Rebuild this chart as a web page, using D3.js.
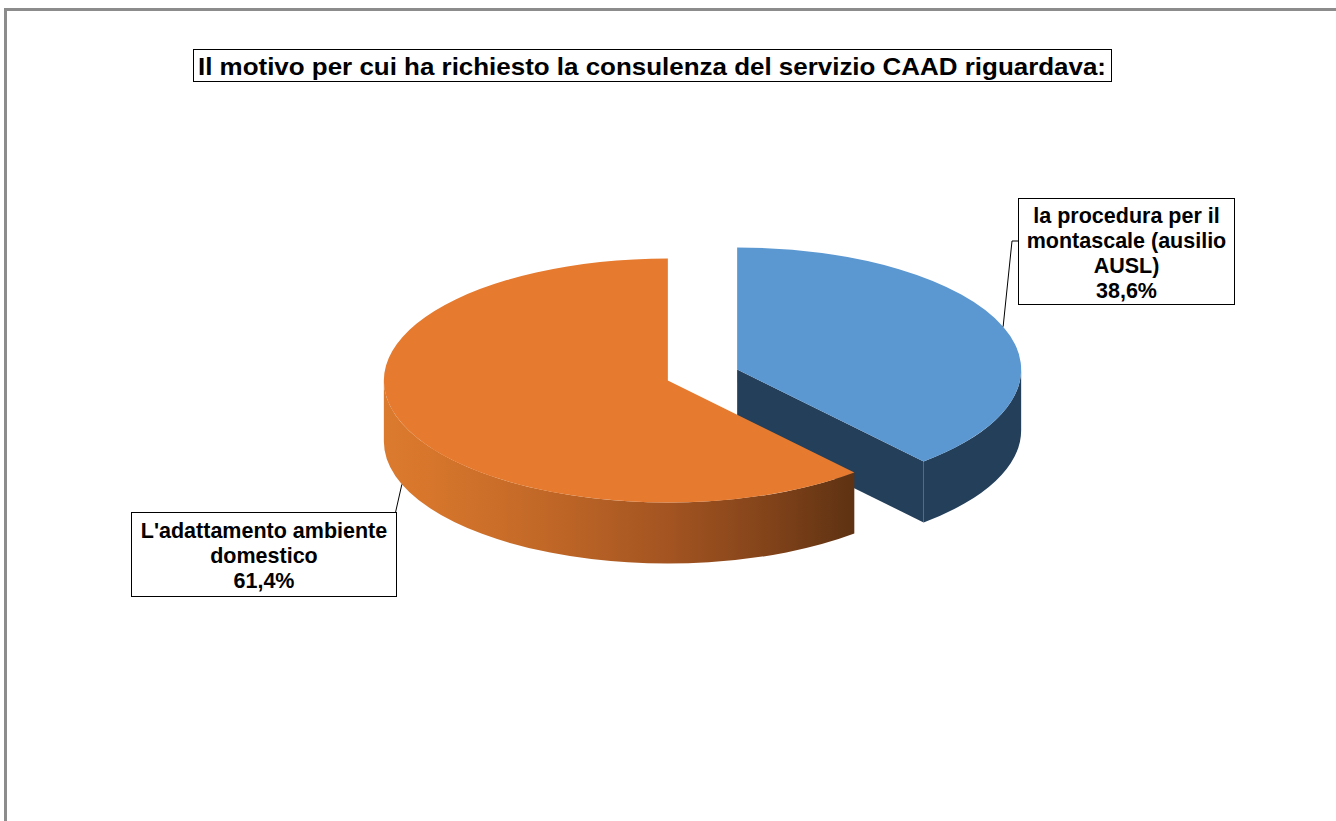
<!DOCTYPE html>
<html>
<head>
<meta charset="utf-8">
<script src="https://cdn.jsdelivr.net/npm/d3@7"></script>
<style>
  html, body { margin: 0; padding: 0; background: #ffffff; overflow: hidden; }
  svg { display: block; }
</style>
</head>
<body>
<svg id="chart" width="1336" height="821"></svg>
<script>
// Survey answers: reason for requesting the CAAD consultancy
const chartTitle = "Il motivo per cui ha richiesto la consulenza del servizio CAAD riguardava:";
const categories = [
  "la procedura per il montascale (ausilio AUSL)",
  "L'adattamento ambiente domestico"
];
const labelLines = [
  ["la procedura per il", "montascale (ausilio", "AUSL)"],
  ["L'adattamento ambiente", "domestico"]
];
const values = [38.6, 61.4];
const valueLabels = ["38,6%", "61,4%"];

const topColors = ["#5b97d1", "#e67a2e"];
const sideColors = ["#243f5a", "url(#orangeSide)"];

const svg = d3.select("#chart");

// outer frame (top and left edges of the chart area)
svg.append("path")
  .attr("d", "M5.5,830 L5.5,9.5 L1340,9.5")
  .attr("fill", "none")
  .attr("stroke", "#8c8c8c").attr("stroke-width", 3);

// title box
const titleG = svg.append("g");
titleG.append("rect")
  .attr("x", 193.5).attr("y", 49.5).attr("width", 918).attr("height", 32)
  .attr("fill", "#ffffff").attr("stroke", "#000").attr("stroke-width", 1);
titleG.append("text")
  .attr("x", 198).attr("y", 74.5)
  .attr("font-family", "'Liberation Sans', Arial, sans-serif")
  .attr("font-weight", "bold").attr("font-size", 24)
  .attr("textLength", 908).attr("lengthAdjust", "spacingAndGlyphs")
  .attr("fill", "#000")
  .text(chartTitle);

// 3D pie geometry
const cx = 702.5, cy = 375;
const rx = 284, ry = 122, depth = 61, explode = 37;
const k = ry / rx;

const pie = d3.pie().sort(null).value(d => d).startAngle(0).endAngle(2 * Math.PI);
const arcs = pie(values);

const defs = svg.append("defs");
const grad = defs.append("linearGradient")
  .attr("id", "orangeSide").attr("gradientUnits", "userSpaceOnUse")
  .attr("x1", 384).attr("x2", 858).attr("y1", 0).attr("y2", 0);
[[0, "#db7b30"], [0.08, "#d8772c"], [0.35, "#c06727"], [0.6, "#a35421"], [0.8, "#84441a"], [1, "#5c3112"]]
  .forEach(([o, c]) => grad.append("stop").attr("offset", o).attr("stop-color", c));

function pt(c, a, dy = 0) {
  return [c[0] + rx * Math.sin(a), c[1] - ry * Math.cos(a) + dy];
}

const pieG = svg.append("g");

arcs.forEach((d, i) => {
  const mid = (d.startAngle + d.endAngle) / 2;
  const c = [cx + explode * Math.sin(mid), cy - explode * k * Math.cos(mid)];
  d.center = c;
  d.mid = mid;
  const g = pieG.append("g");

  // radial cut faces facing the viewer
  [[d.startAngle, Math.sin(d.startAngle) < -1e-6], [d.endAngle, Math.sin(d.endAngle) > 1e-6]]
    .forEach(([a, vis]) => {
      if (!vis) return;
      const p = pt(c, a);
      const path = d3.path();
      path.moveTo(c[0], c[1]);
      path.lineTo(p[0], p[1]);
      path.lineTo(p[0], p[1] + depth);
      path.lineTo(c[0], c[1] + depth);
      path.closePath();
      g.append("path").attr("d", path.toString()).attr("fill", sideColors[i]);
    });

  // outer wall, front half only
  const a0 = Math.max(d.startAngle, Math.PI / 2);
  const a1 = Math.min(d.endAngle, 3 * Math.PI / 2);
  if (a1 > a0) {
    const p0 = pt(c, a0), p1 = pt(c, a1);
    const large = (a1 - a0) > Math.PI ? 1 : 0;
    const s = `M${p0[0]},${p0[1]} A${rx},${ry} 0 ${large} 1 ${p1[0]},${p1[1]}` +
      ` L${p1[0]},${p1[1] + depth} A${rx},${ry} 0 ${large} 0 ${p0[0]},${p0[1] + depth} Z`;
    g.append("path").attr("d", s).attr("fill", sideColors[i]);
  }

  // top face
  const s0 = pt(c, d.startAngle), s1 = pt(c, d.endAngle);
  const largeTop = (d.endAngle - d.startAngle) > Math.PI ? 1 : 0;
  g.append("path")
    .attr("d", `M${c[0]},${c[1]} L${s0[0]},${s0[1]} A${rx},${ry} 0 ${largeTop} 1 ${s1[0]},${s1[1]} Z`)
    .attr("fill", topColors[i]);
});

// data labels with leader lines
const labelFont = "'Liberation Sans', Arial, sans-serif";
const boxes = [
  { x: 1018.5, y: 198.5, w: 216, h: 106, leaderY: 241, elbowX: 1012 },
  { x: 131.5, y: 512.5, w: 265, h: 84 }
];

arcs.forEach((d, i) => {
  const b = boxes[i];
  const lines = labelLines[i].concat([valueLabels[i]]);
  const lg = svg.append("g");
  let leader;
  if (i === 0) {
    const p = pt(d.center, d.mid);
    leader = [[p[0], p[1]], [b.elbowX, b.leaderY], [b.x, b.leaderY]];
  } else {
    const p = pt(d.center, d.mid, depth);
    leader = [[p[0], p[1]], [b.x + b.w - 1, b.y]];
  }
  lg.append("path")
    .attr("d", d3.line()(leader))
    .attr("fill", "none").attr("stroke", "#000").attr("stroke-width", 1);
  lg.append("rect")
    .attr("x", b.x).attr("y", b.y).attr("width", b.w).attr("height", b.h)
    .attr("fill", "#ffffff").attr("stroke", "#000").attr("stroke-width", 1);
  const lh = 25;
  const firstBase = b.y + (b.h - lines.length * lh) / 2 + 21;
  lg.selectAll("text.l").data(lines).join("text")
    .attr("x", b.x + b.w / 2)
    .attr("y", (t, j) => firstBase + j * lh)
    .attr("text-anchor", "middle")
    .attr("font-family", labelFont)
    .attr("font-weight", "bold").attr("font-size", 21.5)
    .attr("fill", "#000")
    .text(t => t);
});
</script>
</body>
</html>
